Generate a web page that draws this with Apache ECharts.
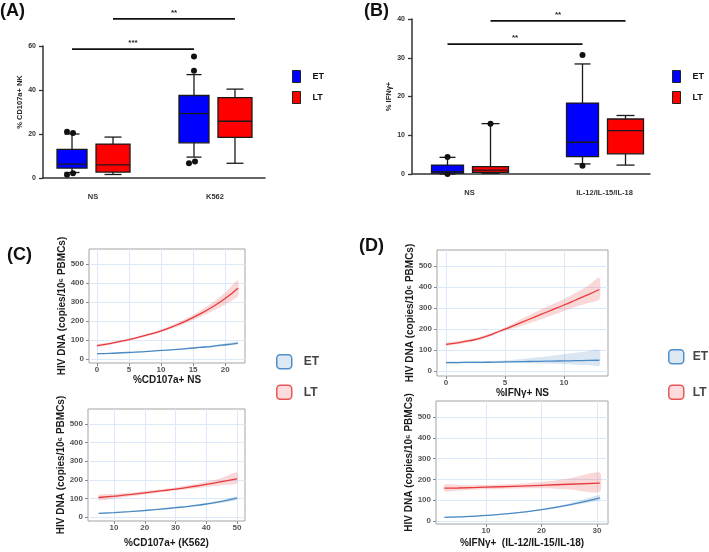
<!DOCTYPE html>
<html>
<head>
<meta charset="utf-8">
<script src="https://cdn.jsdelivr.net/npm/echarts@6/dist/echarts.min.js"></script>
<style>
  html, body { margin: 0; background: #fff; }
  #chart { width: 709px; height: 552px; }
</style>
</head>
<body>
<div id="chart"></div>
<script>
const FONT = 'Liberation Sans, Arial, sans-serif';

// ---- panel A / B : box plots ----
const catsA = ['NS', 'K562'];
const etA = [[2.5, 4.5, 6.3, 13, 20], [9.5, 16, 29.3, 37.5, 47]];
const ltA = [[1.6, 2.7, 6, 15.4, 18.6], [6.7, 18.5, 25.8, 36.5, 40.4]];
const etAOut = [[0, 21], [0, 20.5], [0, 1.5], [0, 2.2], [1, 55.2], [1, 48.8], [1, 6.7], [1, 7.5]];
const ltAOut = [];
const sigA = [[0, 1, 0, 58.6], [0, 1, 1, 72.3]];
const sigALabels = ['***', '**'];

const catsB = ['NS', 'IL-12/IL-15/IL-18'];
const etB = [[0, 0.2, 0.6, 2.3, 4.3], [2.6, 4.5, 8.2, 18.3, 28.4]];
const ltB = [[0.2, 0.4, 1.0, 1.9, 13], [2.3, 5.2, 11.2, 14.2, 15.1]];
const etBOut = [[0, 4.4], [0, 0], [1, 30.7], [1, 2.1]];
const ltBOut = [[0, 13]];
const sigB = [[0, 1, 0, 33.5], [0, 1, 1, 39.5]];
const sigBLabels = ['**', '**'];

// ---- panel C / D : fitted curves with bands ----
const c1X = [0, 2, 4, 6, 8, 10, 12, 14, 16, 18, 20, 22];
const c1Lt = [70, 81, 95, 110, 128, 148, 173, 202, 236, 274, 318, 372];
const c1LtLo = [63, 75, 89, 105, 122, 141, 164, 190, 220, 252, 287, 332];
const c1LtHi = [77, 87, 101, 116, 134, 155, 182, 214, 252, 296, 350, 415];
const c1Et = [28, 30, 33, 36, 40, 45, 49, 55, 61, 67, 75, 84];
const c1EtLo = [25, 28, 31, 34, 38, 42, 46, 51, 56, 61, 68, 76];
const c1EtHi = [31, 32, 35, 38, 42, 48, 52, 59, 66, 73, 82, 92];

const c2X = [5, 10, 15, 20, 25, 30, 35, 40, 45, 50];
const c2Lt = [105, 112, 120, 130, 140, 150, 162, 175, 190, 205];
const c2LtLo = [90, 100, 110, 121, 132, 142, 152, 162, 172, 180];
const c2LtHi = [120, 124, 130, 139, 148, 159, 173, 190, 210, 240];
const c2Et = [20, 24, 29, 35, 42, 50, 59, 70, 84, 102];
const c2EtLo = [17, 22, 27, 33, 40, 47, 55, 65, 77, 92];
const c2EtHi = [23, 26, 31, 37, 44, 53, 63, 75, 91, 112];

const d1X = [0, 1, 2, 3, 4, 5, 6, 7, 8, 9, 10, 11, 12, 13];
const d1Lt = [127, 134, 144, 157, 177, 199, 222, 245, 268, 291, 314, 338, 362, 388];
const d1LtLo = [120, 127, 137, 150, 170, 191, 208, 226, 245, 265, 286, 305, 322, 340];
const d1LtHi = [134, 141, 151, 164, 184, 207, 236, 264, 292, 318, 342, 372, 405, 445];
const d1Et = [40, 40, 41, 41, 42, 43, 44, 45, 46, 47, 48, 49, 50, 51];
const d1EtLo = [35, 36, 37, 37, 38, 38, 38, 37, 35, 34, 32, 30, 28, 25];
const d1EtHi = [45, 45, 46, 47, 48, 50, 54, 60, 66, 73, 80, 87, 94, 100];

const d2X = [2.5, 5, 10, 15, 20, 25, 30.5];
const d2Lt = [158, 159, 163, 167, 172, 177, 182];
const d2LtLo = [143, 147, 153, 157, 158, 152, 140];
const d2LtHi = [175, 173, 173, 178, 188, 205, 233];
const d2Et = [18, 20, 27, 38, 55, 78, 112];
const d2EtLo = [15, 17, 25, 36, 52, 73, 100];
const d2EtHi = [21, 23, 29, 40, 58, 84, 125];

const yTicksDNA = [0, 100, 200, 300, 400, 500];

const BLUE = '#0000ff', RED = '#ff0000';
const LINE_RED = '#e8393b', LINE_BLUE = '#4a8ac4';
const BAND_RED = 'rgba(236,100,100,0.25)', BAND_BLUE = 'rgba(70,130,190,0.2)';

function zip(xs, ys) { return xs.map((x, i) => [x, ys[i]]); }
function boxData(vals) { return vals.map((v, i) => [i].concat(v)); }

function boxRender(offset, width, fill) {
  return function (params, api) {
    const x = api.value(0);
    const py = v => api.coord([x, v])[1];
    const cx = api.coord([x, 0])[0] + offset;
    const yMin = py(api.value(1)), yQ1 = py(api.value(2)), yMed = py(api.value(3));
    const yQ3 = py(api.value(4)), yMax = py(api.value(5));
    const hw = width / 2, cap = width / 4;
    const ls = { stroke: '#1a1a1a', lineWidth: 1.3 };
    return {
      type: 'group', children: [
        { type: 'line', shape: { x1: cx, y1: yMax, x2: cx, y2: yQ3 }, style: ls },
        { type: 'line', shape: { x1: cx, y1: yQ1, x2: cx, y2: yMin }, style: ls },
        { type: 'line', shape: { x1: cx - cap, y1: yMax, x2: cx + cap, y2: yMax }, style: ls },
        { type: 'line', shape: { x1: cx - cap, y1: yMin, x2: cx + cap, y2: yMin }, style: ls },
        { type: 'rect', shape: { x: cx - hw, y: yQ3, width: width, height: yQ1 - yQ3 },
          style: { fill: fill, stroke: '#1a1a1a', lineWidth: 1.3 } },
        { type: 'line', shape: { x1: cx - hw, y1: yMed, x2: cx + hw, y2: yMed }, style: ls }
      ]
    };
  };
}

function dotRender(offset, pts) {
  return function (params, api) {
    const i = params.dataIndex;
    const p = api.coord([api.value(0), api.value(1)]);
    let dx = 0;
    pts.forEach((q, j) => {
      if (j !== i && q[0] === pts[i][0] && Math.abs(q[1] - pts[i][1]) < 2) dx = j < i ? 1 : -5;
    });
    return { type: 'circle', shape: { cx: p[0] + offset + dx, cy: p[1], r: 3 }, style: { fill: '#111' } };
  };
}

function sigRender(offsets, labels) {
  return function (params, api) {
    const s = api.value(2);
    const p1 = api.coord([api.value(0), api.value(3)]);
    const p2 = api.coord([api.value(1), api.value(3)]);
    const x1 = p1[0] + offsets[s], x2 = p2[0] + offsets[s];
    return {
      type: 'group', children: [
        { type: 'line', shape: { x1: x1, y1: p1[1], x2: x2, y2: p1[1] }, style: { stroke: '#111', lineWidth: 1.8 } },
        { type: 'text', x: (x1 + x2) / 2, y: p1[1] - 2,
          style: { text: labels[params.dataIndex], align: 'center', verticalAlign: 'bottom',
                   font: 'bold 8px ' + FONT, fill: '#222' } }
      ]
    };
  };
}

// confidence band: one polygon through the hi edge and back along the lo edge
function bandRender(xs, lo, hi, color) {
  return function (params, api) {
    if (params.dataIndex !== 0) return null;
    const top = xs.map((x, i) => api.coord([x, hi[i]]));
    const bot = xs.map((x, i) => api.coord([x, lo[i]])).reverse();
    return { type: 'polygon', shape: { points: top.concat(bot), smooth: 0.2 }, style: { fill: color } };
  };
}

function boxSeries(gi, name, vals, outs, offset, width, fill) {
  return [
    { type: 'custom', name: name, xAxisIndex: gi, yAxisIndex: gi, z: 2,
      data: boxData(vals), encode: { x: 0, y: [1, 2, 3, 4, 5] },
      renderItem: boxRender(offset, width, fill) },
    { type: 'custom', name: name + ' outliers', xAxisIndex: gi, yAxisIndex: gi, z: 3,
      data: outs, encode: { x: 0, y: 1 }, renderItem: dotRender(offset, outs) }
  ];
}

function curveSeries(gi, name, xs, mid, lo, hi, lineColor, bandColor) {
  return [
    { type: 'custom', name: name + ' band', xAxisIndex: gi, yAxisIndex: gi, silent: true, z: 1,
      data: xs.map((x, i) => [x, lo[i], hi[i]]), encode: { x: 0, y: [1, 2] },
      renderItem: bandRender(xs, lo, hi, bandColor) },
    { type: 'line', name: name, xAxisIndex: gi, yAxisIndex: gi, smooth: true,
      symbol: 'none', lineStyle: { color: lineColor, width: 1.3 }, itemStyle: { color: lineColor },
      data: zip(xs, mid), z: 3 }
  ];
}

const prismLine = { show: true, onZero: false, lineStyle: { color: '#333', width: 1.5 } };
const prismLabel = { fontSize: 7, fontWeight: 'bold', color: '#333', fontFamily: FONT };

function prismX(gi, min, max, cats) {
  return { type: 'value', gridIndex: gi, min: min, max: max, axisLine: prismLine,
    axisTick: { show: false }, splitLine: { show: false },
    axisLabel: Object.assign({}, prismLabel, { fontSize: 7.5, margin: 15, customValues: [0, 1],
      formatter: v => cats[Math.round(v)] }) };
}
function prismY(gi, max, interval, name, gap, pad) {
  return { type: 'value', gridIndex: gi, min: 0, max: max, interval: interval, axisLine: prismLine,
    axisTick: { show: true, length: 4, lineStyle: { color: '#333', width: 1.3 } },
    splitLine: { show: false }, axisLabel: Object.assign({}, prismLabel, { margin: 7 }),
    name: name, nameLocation: 'middle', nameGap: gap,
    nameTextStyle: { fontSize: 7.5, fontWeight: 'bold', color: '#222', fontFamily: FONT, padding: pad } };
}

const ggTitle = { fontSize: 10, fontWeight: 'bold', color: '#1a1a1a', fontFamily: FONT };
function ggAxis(dir, gi, min, max, ticks, name, gap) {
  return { type: 'value', gridIndex: gi, min: min, max: max,
    position: dir === 'x' ? 'bottom' : 'left',
    axisLine: { show: false, onZero: false },
    axisTick: { show: true, customValues: ticks, length: 3, lineStyle: { color: '#8a8a8a' } },
    axisLabel: { customValues: ticks, margin: dir === 'x' ? 3 : 5, fontSize: 8, fontWeight: 'bold',
      color: '#555', fontFamily: FONT },
    splitLine: { show: true, lineStyle: { color: '#dbe9fb', width: 1 } },
    name: name, nameLocation: 'middle', nameGap: gap, nameTextStyle: ggTitle };
}
const ggGrid = { show: true, borderColor: '#a3a3a3', borderWidth: 1, backgroundColor: 'transparent' };
const dnaName = 'HIV DNA (copies/10\u2076 PBMCs)';

const offA = [-21, 20], offB = [-22, 21];

function prismLegend(left) {
  return { left: left, top: 70, orient: 'vertical', padding: 0, itemWidth: 8, itemHeight: 12, itemGap: 8,
    selectedMode: false,
    textStyle: { fontSize: 9, fontWeight: 'bold', color: '#111', fontFamily: FONT, padding: [0, 0, 0, 7] },
    data: [{ name: 'ET', icon: 'rect', itemStyle: { color: BLUE, borderColor: '#222', borderWidth: 1 } },
           { name: 'LT', icon: 'rect', itemStyle: { color: RED, borderColor: '#222', borderWidth: 1 } }] };
}
function ggLegend(left, top, gap, textPad) {
  return { left: left, top: top, orient: 'vertical', padding: 0, itemWidth: 15, itemHeight: 14, itemGap: gap,
    selectedMode: false,
    textStyle: { fontSize: 12, fontWeight: 'bold', color: '#444', fontFamily: FONT, padding: [0, 0, 0, textPad] },
    data: [{ name: 'ET', icon: 'roundRect', itemStyle: { color: '#dde8f3', borderColor: '#4f8fcb', borderWidth: 1.5 } },
           { name: 'LT', icon: 'roundRect', itemStyle: { color: '#fcdcdc', borderColor: '#e85555', borderWidth: 1.5 } }] };
}

const option = {
  animation: false,
  backgroundColor: '#fff',
  grid: [
    { left: 43, top: 46, width: 222, height: 132 },
    { left: 412, top: 19, width: 238, height: 155 },
    Object.assign({ left: 89, top: 249, width: 156, height: 114 }, ggGrid),
    Object.assign({ left: 88, top: 409, width: 157, height: 112 }, ggGrid),
    Object.assign({ left: 437, top: 250, width: 171, height: 126 }, ggGrid),
    Object.assign({ left: 436, top: 401, width: 172, height: 123 }, ggGrid)
  ],
  xAxis: [
    prismX(0, -0.41, 1.41, catsA),
    prismX(1, -0.426, 1.337, catsB),
    ggAxis('x', 2, -1.25, 23.1, [0, 5, 10, 15, 20], '%CD107a+ NS', 12),
    ggAxis('x', 3, 1.54, 52.6, [10, 20, 30, 40, 50], '%CD107a+ (K562)', 17),
    ggAxis('x', 4, -0.76, 13.73, [0, 5, 10], '%IFN\u03b3+ NS', 10),
    ggAxis('x', 5, 0.99, 31.98, [10, 20, 30], '%IFN\u03b3+  (IL-12/IL-15/IL-18)', 14)
  ],
  yAxis: [
    prismY(0, 60, 20, '% CD107a+ NK', 16, [0, 0, 0, 20]),
    prismY(1, 40, 10, '% IFN\u03b3+', 16, 0),
    ggAxis('y', 2, -21, 579, yTicksDNA, dnaName, 20),
    ggAxis('y', 3, -21.5, 581, yTicksDNA, dnaName, 19),
    ggAxis('y', 4, -24, 576, yTicksDNA, dnaName, 22),
    ggAxis('y', 5, -14, 577, yTicksDNA, dnaName, 20)
  ],
  legend: [
    prismLegend(292),
    prismLegend(672),
    ggLegend(276, 354, 15, 7),
    ggLegend(668, 349, 20, 4)
  ],
  graphic: [
    { type: 'text', left: 0, top: 2, style: { text: '(A)', font: 'bold 18px ' + FONT, fill: '#111' } },
    { type: 'text', left: 364, top: 2, style: { text: '(B)', font: 'bold 18px ' + FONT, fill: '#111' } },
    { type: 'text', left: 7, top: 246, style: { text: '(C)', font: 'bold 18px ' + FONT, fill: '#111' } },
    { type: 'text', left: 359, top: 237, style: { text: '(D)', font: 'bold 18px ' + FONT, fill: '#111' } }
  ],
  series: [].concat(
    boxSeries(0, 'ET', etA, etAOut, offA[0], 30, BLUE),
    boxSeries(0, 'LT', ltA, ltAOut, offA[1], 34, RED),
    [{ type: 'custom', name: 'sigA', xAxisIndex: 0, yAxisIndex: 0, z: 4, data: sigA,
       encode: { x: [0, 1], y: 3 }, renderItem: sigRender(offA, sigALabels) }],
    boxSeries(1, 'ET', etB, etBOut, offB[0], 32, BLUE),
    boxSeries(1, 'LT', ltB, ltBOut, offB[1], 36, RED),
    [{ type: 'custom', name: 'sigB', xAxisIndex: 1, yAxisIndex: 1, z: 4, data: sigB,
       encode: { x: [0, 1], y: 3 }, renderItem: sigRender(offB, sigBLabels) }],
    curveSeries(2, 'LT', c1X, c1Lt, c1LtLo, c1LtHi, LINE_RED, BAND_RED),
    curveSeries(2, 'ET', c1X, c1Et, c1EtLo, c1EtHi, LINE_BLUE, BAND_BLUE),
    curveSeries(3, 'LT', c2X, c2Lt, c2LtLo, c2LtHi, LINE_RED, BAND_RED),
    curveSeries(3, 'ET', c2X, c2Et, c2EtLo, c2EtHi, LINE_BLUE, BAND_BLUE),
    curveSeries(4, 'LT', d1X, d1Lt, d1LtLo, d1LtHi, LINE_RED, BAND_RED),
    curveSeries(4, 'ET', d1X, d1Et, d1EtLo, d1EtHi, LINE_BLUE, BAND_BLUE),
    curveSeries(5, 'LT', d2X, d2Lt, d2LtLo, d2LtHi, LINE_RED, BAND_RED),
    curveSeries(5, 'ET', d2X, d2Et, d2EtLo, d2EtHi, LINE_BLUE, BAND_BLUE)
  )
};

const chart = echarts.init(document.getElementById('chart'), null, { renderer: 'canvas' });
chart.setOption(option);
</script>
</body>
</html>
